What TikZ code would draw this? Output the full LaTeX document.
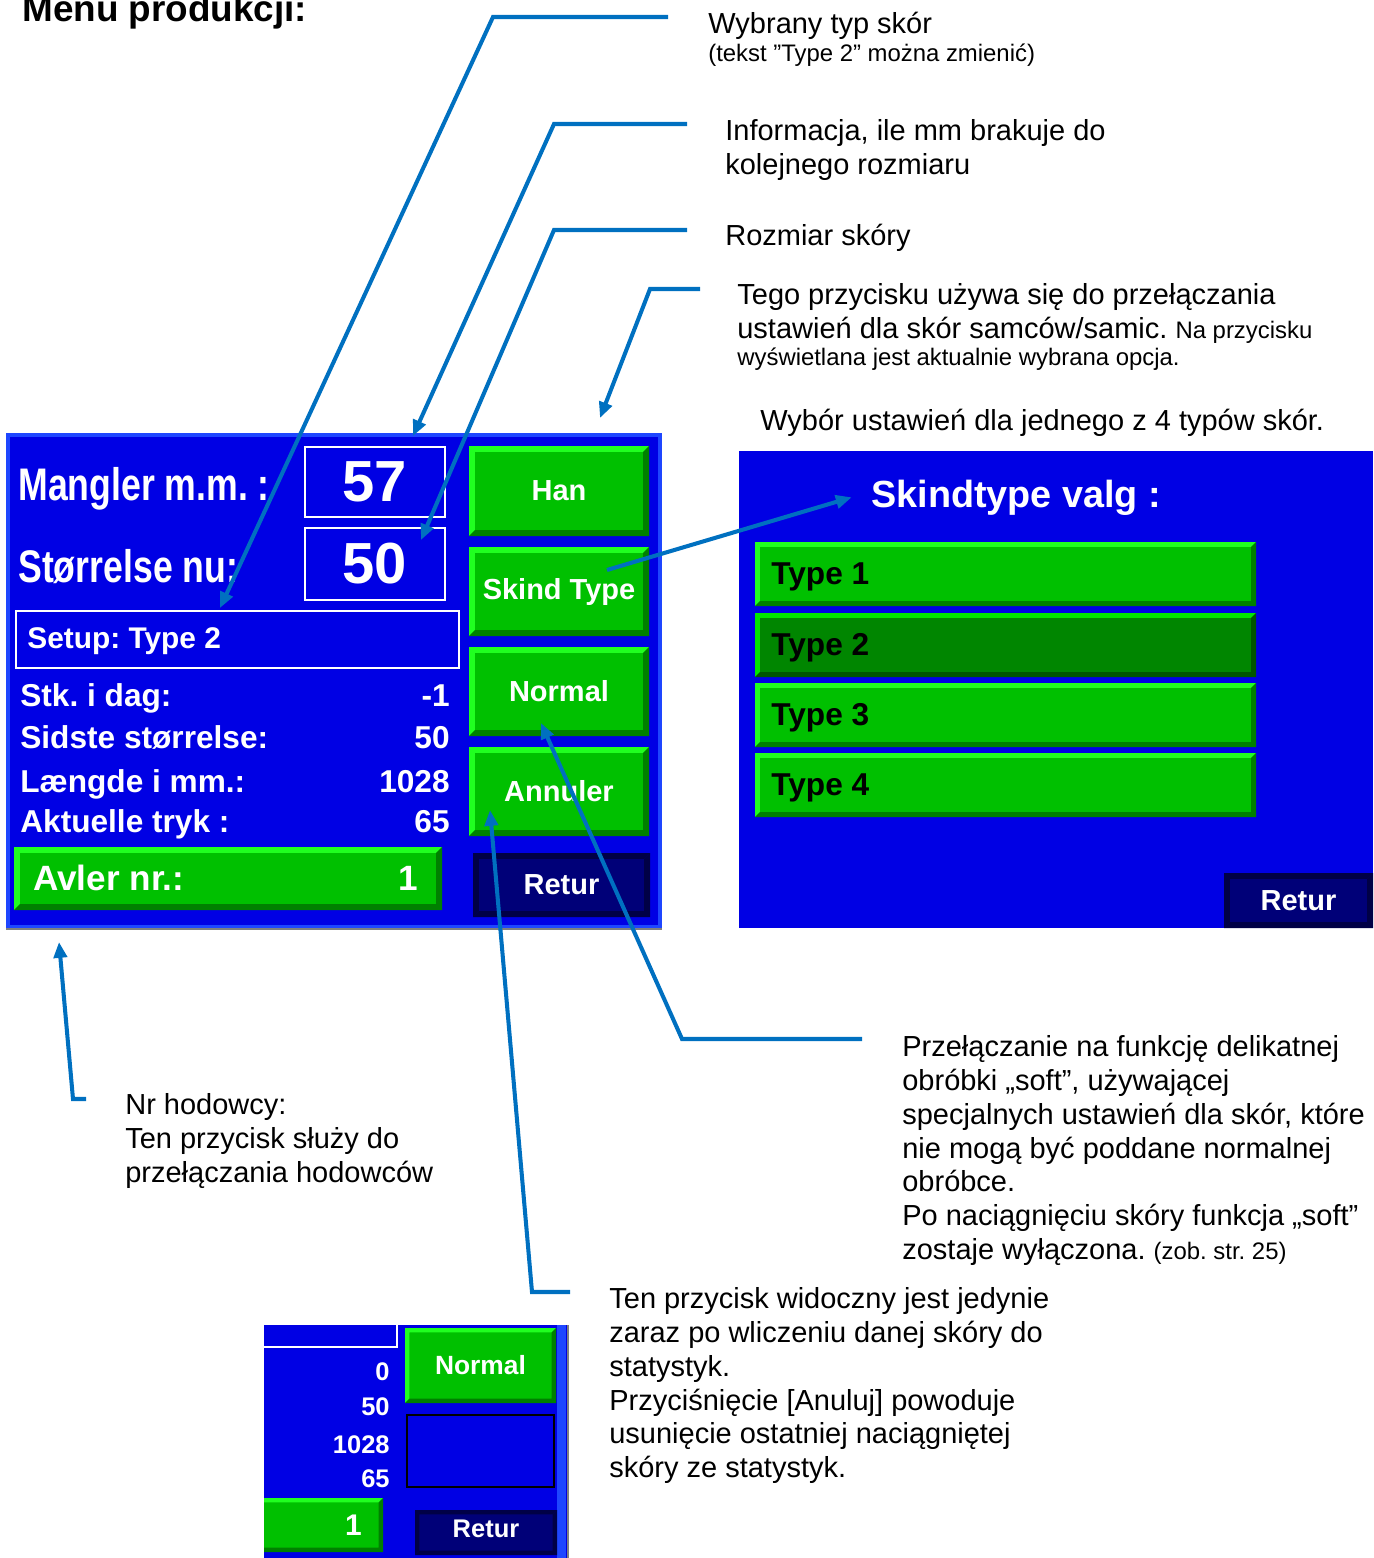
\documentclass[tikz,border=0pt]{standalone}
\usepackage{fontspec}
\setmainfont{Liberation Sans}
\newfontfamily\lcdnarrow[FakeStretch=0.78]{Liberation Sans}
\usetikzlibrary{arrows.meta,fit}
\frenchspacing

\definecolor{scrblue}{RGB}{0,0,228}
\definecolor{frameblue}{RGB}{30,70,255}
\definecolor{btnlight}{RGB}{32,255,32}
\definecolor{btnmid}{RGB}{0,192,0}
\definecolor{btndark}{RGB}{0,128,0}
\definecolor{sellight}{RGB}{0,230,0}
\definecolor{selmid}{RGB}{0,134,0}
\definecolor{seldark}{RGB}{0,85,0}
\definecolor{navymid}{RGB}{0,0,120}
\definecolor{navydark}{RGB}{0,0,70}
\definecolor{callblue}{RGB}{0,112,192}

\newcommand\notefont{\fontsize{16.5}{19.3}\selectfont}
\newcommand\notesmall{\fontsize{13.6}{16}\selectfont}
\newcommand\fl{\rule{0pt}{16.5pt}}
\newcommand\lcdbig{\lcdnarrow\bfseries\fontsize{26}{30}\selectfont}
\newcommand\lcdnum{\bfseries\fontsize{33}{36}\selectfont}
\newcommand\lcdrow{\bfseries\fontsize{18}{21}\selectfont}
\newcommand\lcdbtn{\bfseries\fontsize{16.5}{19}\selectfont}
\newcommand\lcdmini{\bfseries\fontsize{14.5}{17}\selectfont}
\newcommand\bevw{3.4pt}

\begin{document}
\begin{tikzpicture}[x=0.02cm, y=-0.02cm,
    bev/.store in=\bevw,
    screen/.style={fill=scrblue, inner sep=0pt},
    valbox/.style={draw=white, line width=1.2pt, inner sep=0pt},
    bevel/.style n args={3}{fill=#2, draw=none, inner sep=0pt, path picture={
        \path (path picture bounding box.north west) coordinate (p1)
              (path picture bounding box.north east) coordinate (p2)
              (path picture bounding box.south east) coordinate (p3)
              (path picture bounding box.south west) coordinate (p4);
        \fill[#1] (p1) -- (p2) -- ([shift={(-\bevw,-\bevw)}]p2) -- ([shift={(\bevw,-\bevw)}]p1)
            -- ([shift={(\bevw,\bevw)}]p4) -- (p4) -- cycle;
        \fill[#3] (p3) -- (p4) -- ([shift={(\bevw,\bevw)}]p4) -- ([shift={(-\bevw,\bevw)}]p3)
            -- ([shift={(-\bevw,-\bevw)}]p2) -- (p2) -- cycle;
    }},
    btn/.style={bevel={btnlight}{btnmid}{btndark}},
    selbtn/.style={bevel={sellight}{selmid}{seldark}},
    navybtn/.style={bevel={navydark}{navymid}{navydark}},
    lcdtxt/.style={text=white, inner sep=0pt},
    note/.style={anchor=north west, inner sep=0pt, align=left, font=\notefont},
    callout/.style={draw=callblue, line width=2.3pt, -{Triangle[length=9pt,width=7.5pt]}}
]
\useasboundingbox (0,0) rectangle (1373,1558);

\node[anchor=base west, inner sep=0pt, font=\bfseries\fontsize{21}{24}\selectfont] (title) at (22,22) {Menu produkcji:};

% production screen
\node[screen, draw=frameblue, line width=2pt, fit={(8,435)(660,927)}] (prod) {};
\draw[gray, line width=1pt] (prod.south west) -- (prod.south east);

\node[lcdtxt, font=\lcdbig, anchor=base west] (mangler) at (18,500) {Mangler m.m. :};
\node[lcdtxt, font=\lcdbig, anchor=base west] (storr) at (18,582) {Størrelse nu:};
\node[valbox, fit={(305,447)(445,517)}] (missing) {};
\node[lcdtxt, font=\lcdnum] (missinglab) at (missing) {57};
\node[valbox, fit={(305,528)(445,600)}] (size) {};
\node[lcdtxt, font=\lcdnum] (sizelab) at (size) {50};
\node[valbox, fit={(16,611)(459,668)}] (setup) {};
\node[lcdtxt, font=\bfseries\fontsize{17}{20}\selectfont, anchor=base west] (setuplab) at (27,648) {Setup: Type 2};

\foreach \lab/\val/\yy [count=\i] in {Stk. i dag:/-1/706, Sidste størrelse:/50/748, Længde i mm.:/1028/792, Aktuelle tryk :/65/832}{
    \node[lcdtxt, font=\lcdrow, anchor=base west] (row\i) at (20,\yy) {\lab};
    \node[lcdtxt, font=\lcdrow, anchor=base east] (val\i) at (450,\yy) {\val};
}

\foreach \txt/\ya/\yb/\nm in {Han/446/536/han, Skind Type/547/636/skind, Normal/647/736/normal, Annuler/747/836/annul}{
    \node[btn, fit={(469,\ya)(649,\yb)}] (\nm) {};
    \node[lcdtxt, font=\lcdbtn] (\nm-lab) at (\nm) {\txt};
}
\node[navybtn, fit={(473,853)(650,917)}] (retur) {};
\node[lcdtxt, font=\lcdbtn] (returlab) at (retur) {Retur};

\node[btn, fit={(14,847)(442,910)}] (avler) {};
\node[lcdtxt, font=\bfseries\fontsize{20}{24}\selectfont, anchor=base west] (avlerlab) at (33,890) {Avler nr.:};
\node[lcdtxt, font=\bfseries\fontsize{20}{24}\selectfont, anchor=base east] (avlerval) at (418,890) {1};

% skin type screen
\node[screen, fit={(739,451)(1373,928)}] (valg) {};
\node[lcdtxt, font=\bfseries\fontsize{21.5}{25}\selectfont, anchor=base west] (valgtitle) at (871,507) {Skindtype valg :};
\foreach \i/\ya/\st in {1/542/btn, 2/613/selbtn, 3/683/btn, 4/753/btn}{
    \pgfmathtruncatemacro\yb{\ya+64}
    \pgfmathtruncatemacro\yt{\ya+42}
    \node[\st, bev=2.8pt, fit={(755,\ya)(1256,\yb)}] (type\i) {};
    \node[inner sep=0pt, font=\lcdrow, anchor=base west] (typelab\i) at (771,\yt) {Type \i};
}
\node[navybtn, fit={(1224,873)(1373,928)}] (retur2) {};
\node[lcdtxt, font=\lcdbtn] (retur2lab) at (retur2) {Retur};

% cut-out of the screen after a skin was counted
\begin{scope}
\clip (264,1325) rectangle (570,1558);
\node[screen, fit={(200,1325)(567,1570)}] (mini) {};
\fill[frameblue] (557,1325) rectangle (566,1558);
\draw[gray, line width=1pt] (568,1325) -- (568,1558);
\draw[white, line width=1.2pt] (200,1347) -- (397,1347) -- (397,1300);
\foreach \val/\yy [count=\i] in {0/1380, 50/1415, 1028/1453, 65/1487}
    \node[lcdtxt, font=\lcdmini, anchor=base east] (mval\i) at (390,\yy) {\val};
\node[btn, bev=2.5pt, fit={(405,1328)(556,1403)}] (mnormal) {};
\node[lcdtxt, font=\bfseries\fontsize{15}{18}\selectfont] (mnormallab) at (mnormal) {Normal};
\node[draw=black, line width=1.2pt, inner sep=0pt, fit={(407,1415)(554,1487)}] (mhidden) {};
\node[btn, bev=2.5pt, fit={(200,1498)(383,1552)}] (mavler) {};
\node[lcdtxt, font=\bfseries\fontsize{17}{20}\selectfont, anchor=base east] (mavlerval) at (362,1535) {1};
\node[navybtn, bev=2.5pt, fit={(415,1510)(557,1555)}] (mretur) {};
\node[lcdtxt, font=\lcdmini] (mreturlab) at ([yshift=2pt]mretur.center) {Retur};
\end{scope}

% notes
\node[note] (wybrany) at (708,4) {\fl Wybrany typ skór\\[-3.4pt]{\notesmall (tekst ”Type 2” można zmienić)}};
\node[note] (informacja) at (725,111) {\fl Informacja, ile mm brakuje do\\kolejnego rozmiaru};
\node[note] (rozmiar) at (725,216) {\fl Rozmiar skóry};
\node[note] (tego) at (737,275) {\fl Tego przycisku używa się do przełączania\\ustawień dla skór samców/samic. {\notesmall Na przycisku}\\[-3.9pt]{\notesmall wyświetlana jest aktualnie wybrana opcja.}};
\node[note] (wybor) at (760,401) {\fl Wybór ustawień dla jednego z 4 typów skór.};
\node[note] (nrhod) at (125,1085) {\fl Nr hodowcy:\\Ten przycisk służy do\\przełączania hodowców};
\node[note] (soft) at (902,1027) {\fl Przełączanie na funkcję delikatnej\\obróbki „soft”, używającej\\specjalnych ustawień dla skór, które\\nie mogą być poddane normalnej\\obróbce.\\Po naciągnięciu skóry funkcja „soft”\\zostaje wyłączona. {\notesmall (zob. str. 25)}};
\node[note] (anuluj) at (609,1279) {\fl Ten przycisk widoczny jest jedynie\\zaraz po wliczeniu danej skóry do\\statystyk.\\Przyciśnięcie [Anuluj] powoduje\\usunięcie ostatniej naciągniętej\\skóry ze statystyk.};

% callout lines
\coordinate (wyb-a) at (668,17);   \coordinate (wyb-b) at (493,17);   \coordinate (wyb-tip) at (220,608);
\coordinate (inf-a) at (687,124);  \coordinate (inf-b) at (554,124);  \coordinate (inf-tip) at (413,436);
\coordinate (roz-a) at (687,230);  \coordinate (roz-b) at (554,230);  \coordinate (roz-tip) at (421,540);
\coordinate (tego-a) at (700,289); \coordinate (tego-b) at (650,289); \coordinate (tego-tip) at (600,418);
\coordinate (skind-a) at (607,570);
\coordinate (soft-a) at (862,1039); \coordinate (soft-b) at (682,1039); \coordinate (soft-tip) at (541,723);
\coordinate (anu-a) at (570,1292); \coordinate (anu-b) at (532,1292); \coordinate (anu-tip) at (490,810);
\coordinate (hod-a) at (86,1099);  \coordinate (hod-b) at (73,1099);  \coordinate (hod-tip) at (59,942);

\draw[callout] (wyb-a) -- (wyb-b) -- (wyb-tip);
\draw[callout] (inf-a) -- (inf-b) -- (inf-tip);
\draw[callout] (roz-a) -- (roz-b) -- (roz-tip);
\draw[callout] (tego-a) -- (tego-b) -- (tego-tip);
\draw[callout] (skind-a) -- ([xshift=-11pt]valgtitle.west);
\draw[callout] (soft-a) -- (soft-b) -- (soft-tip);
\draw[callout] (anu-a) -- (anu-b) -- (anu-tip);
\draw[callout] (hod-a) -- (hod-b) -- (hod-tip);
\end{tikzpicture}
\end{document}
